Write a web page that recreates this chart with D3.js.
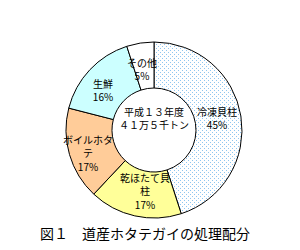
<!DOCTYPE html>
<html><head><meta charset="utf-8">
<script src="https://cdn.jsdelivr.net/npm/d3@7"></script>
<style>body{margin:0;background:#fff}svg{display:block}</style>
</head><body>
<svg id="c" width="300" height="250"></svg>
<script>
const categories = ["冷凍貝柱", "乾ほたて貝柱", "ボイルホタテ", "生鮮", "その他"];
const values = [45, 17, 17, 16, 5];
const labelLines = [["冷凍貝柱","45%"],["乾ほたて貝","柱","17%"],["ボイルホタ","テ","17%"],["生鮮","16%"],["その他","5%"]];
const centerText = ["平成１３年度","４１万５千トン"];
const title = "図１　道産ホタテガイの処理配分";

const fills = ["url(#dots)", "#ffff99", "#ffcc99", "#ccffff", "#ffffff"];
const labelPos = [[217,111],[145,177],[88,139],[103,83],[142,62]];

const svg = d3.select("#c");
const defs = svg.append("defs");
const pat = defs.append("pattern").attr("id","dots").attr("width",4).attr("height",4).attr("patternUnits","userSpaceOnUse");
pat.append("rect").attr("width",4).attr("height",4).attr("fill","#ffffff");
pat.append("rect").attr("x",0).attr("y",0).attr("width",1).attr("height",1).attr("fill","#8ec6f0");
pat.append("rect").attr("x",2).attr("y",2).attr("width",1).attr("height",1).attr("fill","#8ec6f0");

const cx = 154, cy = 130, rOut = 88, rIn = 42;
const pie = d3.pie().sort(null).value(d => d)(values);
const arc = d3.arc().innerRadius(rIn).outerRadius(rOut);
const g = svg.append("g").attr("transform", `translate(${cx},${cy})`);
g.selectAll("path").data(pie).join("path")
  .attr("d", arc).attr("fill", (d,i) => fills[i])
  .attr("stroke", "#000").attr("stroke-width", 1);

const font = "'Noto Sans CJK JP', sans-serif";
labelLines.forEach((lines, i) => {
  lines.forEach((t, j) => {
    svg.append("text").attr("x", labelPos[i][0]).attr("y", labelPos[i][1] + j*13.5)
      .attr("text-anchor","middle").attr("dominant-baseline","central")
      .attr("font-family", font).attr("font-size", 10).attr("fill","#000").text(t);
  });
});
centerText.forEach((t, j) => {
  svg.append("text").attr("x", cx).attr("y", 111 + j*13.5)
    .attr("text-anchor","middle").attr("dominant-baseline","central")
    .attr("font-family", font).attr("font-size", 10).attr("fill","#000").text(t);
});
svg.append("text").attr("x", 145).attr("y", 233)
  .attr("text-anchor","middle").attr("dominant-baseline","central")
  .attr("font-family", font).attr("font-size", 14).attr("fill","#000").text(title);
</script>
</body></html>
